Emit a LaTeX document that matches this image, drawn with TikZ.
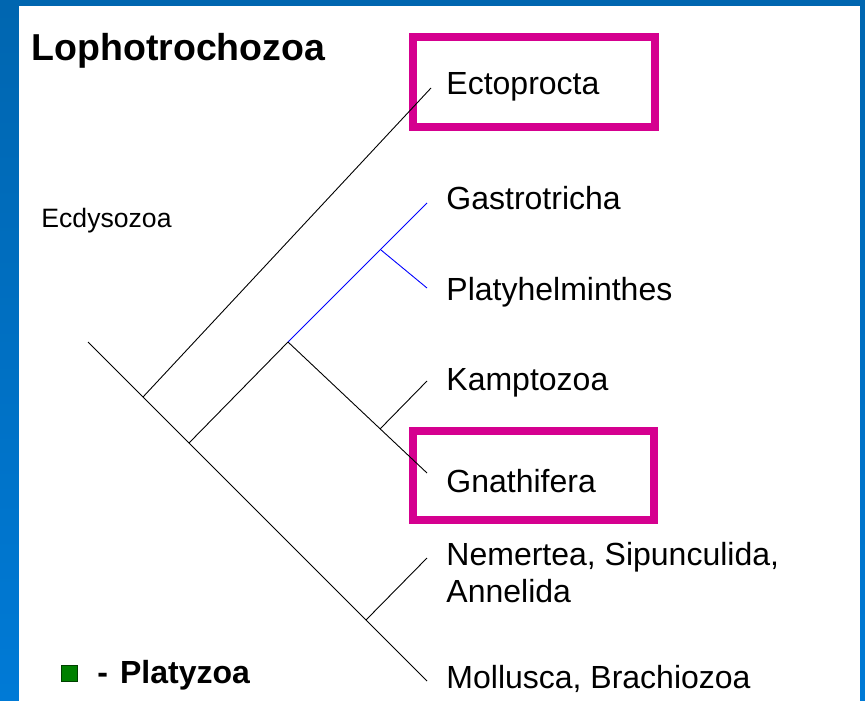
\documentclass[tikz,border=0pt]{standalone}
\usepackage{fontspec}
\setmainfont{Liberation Sans}
\definecolor{frameblue}{RGB}{0,102,176}
\definecolor{framelight}{RGB}{0,122,214}
\definecolor{hlmagenta}{RGB}{213,0,143}
\definecolor{platyblue}{RGB}{0,0,255}
\definecolor{bulletgreen}{RGB}{0,128,0}
\begin{document}
\begin{tikzpicture}[x=1pt, y=-1pt, line width=0.9pt, font=\fontsize{32}{37}\selectfont]
  \tikzset{taxon/.style={anchor=base west, inner sep=0pt, align=left},
           hilite/.style={draw=hlmagenta, line width=8pt},
           branch/.style={draw=black, line width=0.9pt},
           platy/.style={draw=platyblue, line width=0.9pt}}
  \useasboundingbox (0,0) rectangle (865,701);
  \shade[top color=frameblue, bottom color=framelight] (0,0) rectangle (865,701);
  \fill[white] (19,6) rectangle (860,701);

  \node[taxon, font=\fontsize{37.5}{40}\selectfont\bfseries] (lopho) at (31,61) {Lophotrochozoa};
  \node[taxon, font=\fontsize{26.6}{30}\selectfont] (ecdy) at (41,227) {Ecdysozoa};

  \draw[hilite] (413,37) rectangle (655,127);
  \draw[hilite] (413,431) rectangle (654,520);

  \node[taxon] (ecto) at (446,94) {Ectoprocta};
  \node[taxon] (gastro) at (446,209) {Gastrotricha};
  \node[taxon] (platyh) at (446,300) {Platyhelminthes};
  \node[taxon] (kampto) at (446,390) {Kamptozoa};
  \node[taxon] (gnath) at (446,492) {Gnathifera};
  \node[taxon] (nemert) at (446,602) {Nemertea, Sipunculida,\\Annelida};
  \node[taxon] (mollus) at (446,688) {Mollusca, Brachiozoa};

  \coordinate (root) at (88,342);
  \coordinate (trunkend) at (427,681);
  \coordinate (a) at (143,397);
  \coordinate (b) at (189,443);
  \coordinate (c) at (288,342);
  \coordinate (d) at (381,250);
  \coordinate (e) at (380,429);
  \coordinate (f) at (366,620);
  \coordinate (ectotip) at (431,88);
  \coordinate (gastrotip) at (427,203);
  \coordinate (platytip) at (427,288);
  \coordinate (kamptotip) at (427,381);
  \coordinate (gnathtip) at (427,473);
  \coordinate (nemerttip) at (427,558);

  \draw[branch] (root) -- (trunkend);
  \draw[branch] (a) -- (ectotip);
  \draw[branch] (b) -- (c);
  \draw[platy] (c) -- (gastrotip);
  \draw[platy] (d) -- (platytip);
  \draw[branch] (c) -- (gnathtip);
  \draw[branch] (e) -- (kamptotip);
  \draw[branch] (f) -- (nemerttip);

  \node[draw=bulletgreen!50!black, fill=bulletgreen, line width=0.8pt, minimum size=16, inner sep=0pt] (bullet) at (69.5,673) {};
  \node[taxon, font=\fontsize{32}{36}\selectfont\bfseries] (platyzoa) at (97,683) {-\hspace{12pt}Platyzoa};
\end{tikzpicture}
\end{document}
